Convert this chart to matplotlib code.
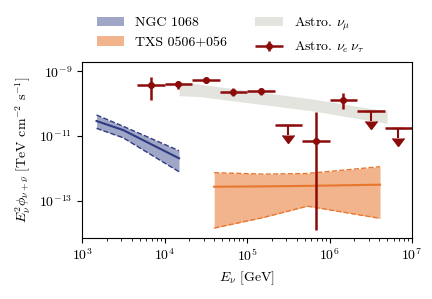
import matplotlib
matplotlib.use("Agg")
import matplotlib.pyplot as plt
import numpy as np
from matplotlib.container import ErrorbarContainer
from matplotlib.legend_handler import HandlerErrorbar

plt.rcParams['font.family'] = 'cmr10'
plt.rcParams['mathtext.fontset'] = 'cm'
plt.rcParams['axes.formatter.use_mathtext'] = True
plt.rcParams['font.size'] = 10

# NGC 1068 band (E in GeV, E^2 flux in TeV cm^-2 s^-1)
ngc_E = [1.5e3, 3.15e3, 1.5e4]
ngc_lo = [1.73e-11, 8.85e-12, 7.8e-13]
ngc_hi = [4.48e-11, 2.01e-11, 3.5e-12]
ngc_mid = [2.92e-11, 1.53e-11, 2.04e-12]

# TXS 0506+056 band
txs_E = [4.0e4, 1.6e5, 5.4e5, 4.1e6]
txs_lo = [1.4e-14, 3.0e-14, 6.7e-14, 2.8e-14]
txs_hi = [7.3e-13, 6.6e-13, 6.9e-13, 1.12e-12]
txs_mid = [2.68e-13, 2.75e-13, 2.85e-13, 3.1e-13]

# Astro. nu_mu band
numu_E = [1.5e4, 2.7e4, 6.3e5, 2.5e6, 5.0e6]
numu_lo = [1.78e-10, 1.66e-10, 6.0e-11, 3.3e-11, 2.48e-11]
numu_hi = [4.83e-10, 4.02e-10, 1.4e-10, 7.9e-11, 5.96e-11]

# Astro. nu_e nu_tau segmented fit
bin_edges = 10 ** np.arange(11/3, 7.01, 1/3)
flux = [3.81e-10, 4.09e-10, 5.45e-10, 2.26e-10, 2.43e-10, 2.15e-11,
        6.86e-12, 1.31e-10, 5.96e-11, 1.73e-11]
flux_hi = [6.6e-10, 5.19e-10, 6.43e-10, 3.01e-10, 3.08e-10, np.nan,
           5.66e-11, 2.11e-10, np.nan, np.nan]
flux_lo = [1.31e-10, 2.81e-10, 4.5e-10, 1.74e-10, 1.87e-10, np.nan,
           1.2e-14, 6.73e-11, np.nan, np.nan]
is_limit = [False, False, False, False, False, True, False, False, True, True]

fig = plt.figure(figsize=(4.32, 2.99), dpi=100)
ax = fig.add_axes([82/432, 61/299, 330/432, 176/299])

navy = '#2e3b82'
orange = '#e8772e'
red = '#8b0a0a'

ax.fill_between(ngc_E, ngc_lo, ngc_hi, color=navy, alpha=0.45, lw=0, label='NGC 1068')
ax.plot(ngc_E, ngc_lo, color=navy, ls='--', lw=1)
ax.plot(ngc_E, ngc_hi, color=navy, ls='--', lw=1)
ax.plot(ngc_E, ngc_mid, color=navy, lw=1.5)

ax.fill_between(txs_E, txs_lo, txs_hi, color=orange, alpha=0.55, lw=0, label='TXS 0506+056')
ax.plot(txs_E, txs_lo, color=orange, ls='--', lw=1)
ax.plot(txs_E, txs_hi, color=orange, ls='--', lw=1)
ax.plot(txs_E, txs_mid, color=orange, lw=1.5)

ax.fill_between(numu_E, numu_lo, numu_hi, color='#e4e4df', lw=0, label=r'Astro. $\nu_\mu$')

centers = np.sqrt(bin_edges[:-1] * bin_edges[1:])
flux = np.array(flux)
xerr = np.array([centers - bin_edges[:-1], bin_edges[1:] - centers])
lim = np.array(is_limit)
pts = ~lim
yerr = np.array([flux - np.array(flux_lo), np.array(flux_hi) - flux])
ax.errorbar(centers[pts], flux[pts], xerr=xerr[:, pts], yerr=yerr[:, pts],
            fmt='o', ms=4, color=red, lw=1.8, capsize=0,
            label=r'Astro. $\nu_e\,\nu_\tau$')
# upper limits: horizontal bin bar plus downward arrow
ax.errorbar(centers[lim], flux[lim], xerr=xerr[:, lim],
            fmt='none', color=red, lw=1.8, capsize=0)
ax.errorbar(centers[lim], flux[lim], yerr=flux[lim] * (1 - 10 ** -0.3),
            uplims=True, fmt='none', color=red, lw=1.5, capsize=4)

ax.set_xscale('log')
ax.set_yscale('log')
ax.set_xlim(1e3, 1e7)
ax.set_ylim(6.9e-15, 1.97e-9)
ax.set_yticks([1e-13, 1e-11, 1e-9])
ax.yaxis.set_minor_locator(matplotlib.ticker.NullLocator())
ax.set_xlabel(r'$E_\nu$ [GeV]')
ax.set_ylabel(r'$E_\nu^2\phi_{\nu+\bar{\nu}}$ [TeV cm$^{-2}$ s$^{-1}$]')

ax.legend(loc='lower center', bbox_to_anchor=(0.45, 0.985), ncol=2,
          frameon=False, borderaxespad=0.3, columnspacing=2.0,
          handler_map={ErrorbarContainer: HandlerErrorbar(xerr_size=1.0, yerr_size=0.35)})

fig.savefig('out.png', dpi=100)
